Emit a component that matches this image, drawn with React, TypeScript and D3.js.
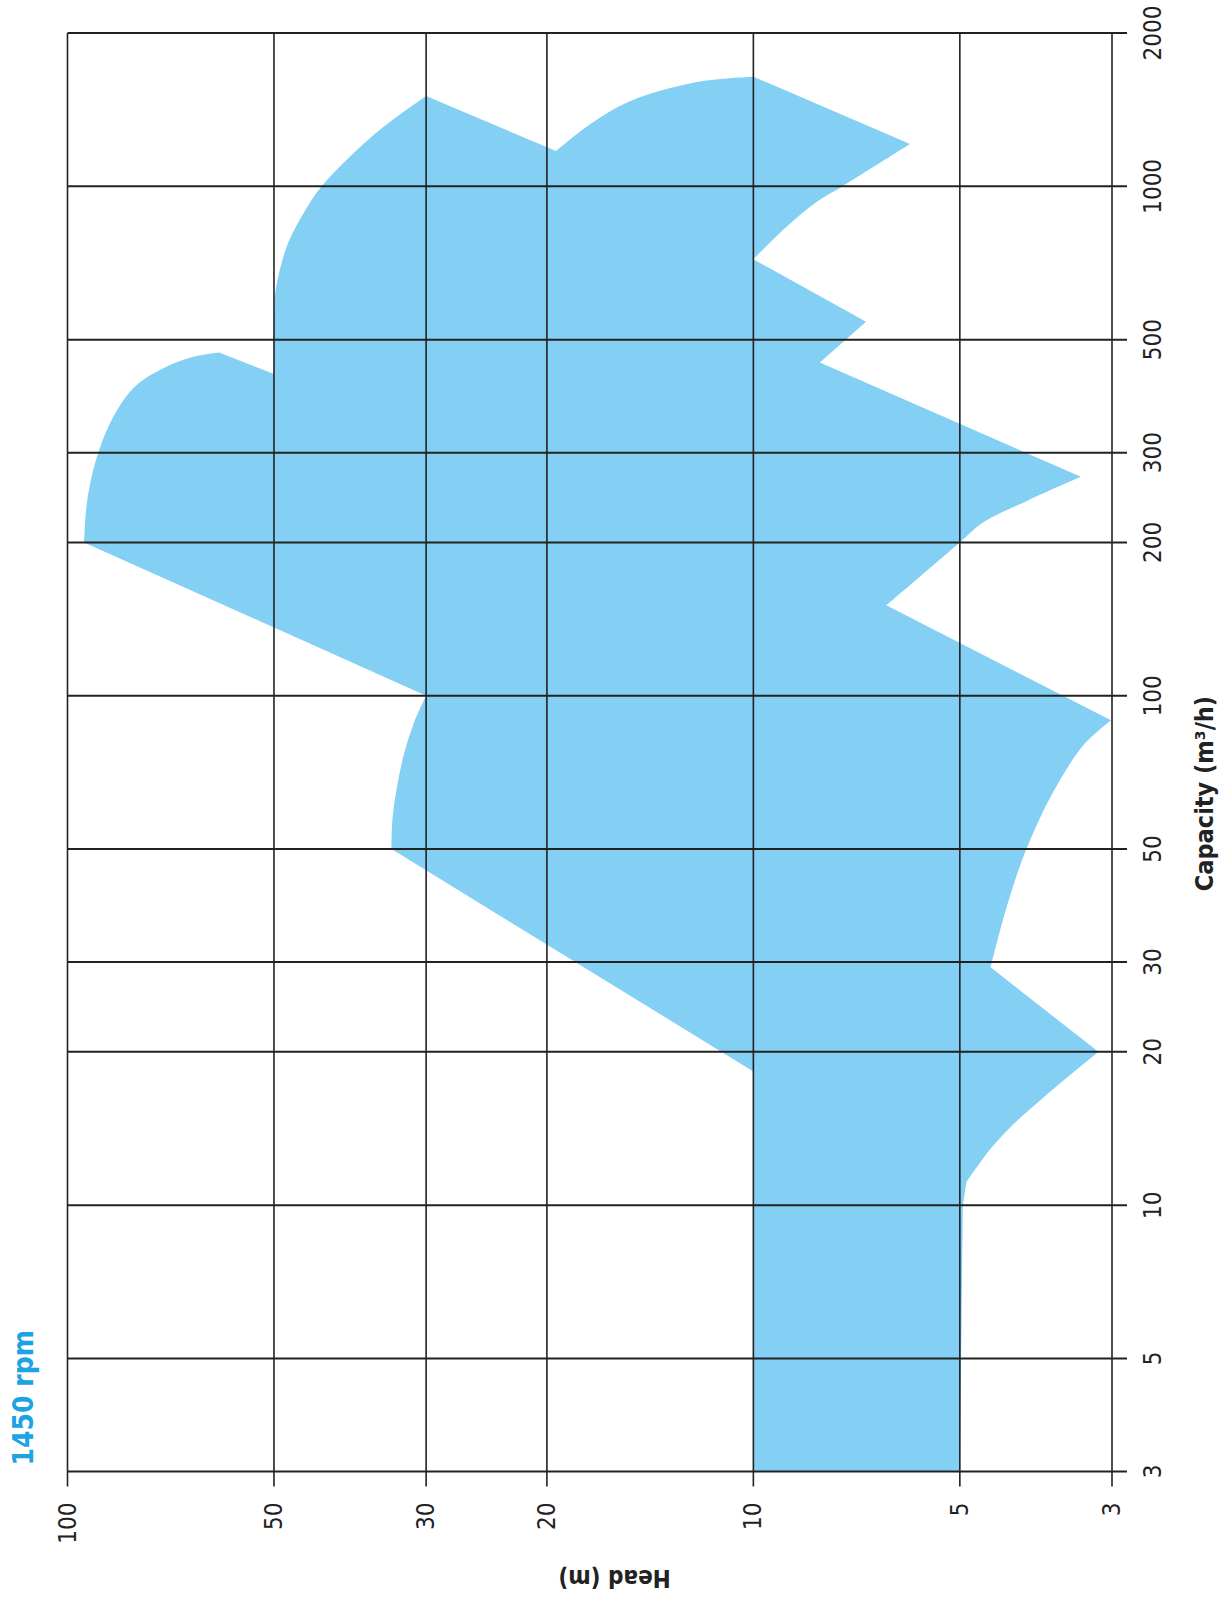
import { useEffect, useRef } from 'react';
import * as d3 from 'd3';

type Pt = [number, number]; // [capacity m3/h, head m]

// axis ticks
const capacityTicks = [3, 5, 10, 20, 30, 50, 100, 200, 300, 500, 1000, 2000];
const headTicks = [100, 50, 30, 20, 10, 5, 3];

// operating range outline, walked round in order; smooth pieces are pump curves
const lowStart: Pt[] = [[3, 10], [18.3, 10], [50, 33.7]];
const curveA: Pt[] = [[50, 33.7], [57, 33.6], [66, 33.1], [77, 32.3], [89, 31.2], [100, 30]];
const riseA: Pt[] = [[100, 30], [200, 94.6]];
const curveB: Pt[] = [[200, 94.6], [239, 93.7], [287, 91.1], [344, 86.6], [403, 80.0], [442, 71.9], [463, 65.5], [472, 60.1]];
const stepB: Pt[] = [[472, 60.1], [428, 50]];
const curveC: Pt[] = [[428, 50], [530, 50], [599, 49.9], [664, 49.3], [773, 47.7], [898, 45.0], [1000, 42.6], [1127, 39.2], [1309, 34.6], [1505, 30]];
const stepC: Pt[] = [[1505, 30], [1173, 19.4]];
const curveD: Pt[] = [[1173, 19.4], [1324, 17.3], [1465, 15.2], [1556, 13.3], [1614, 11.7], [1642, 10]];
const stepD: Pt[] = [[1642, 10], [1211, 5.91]];
const curveE: Pt[] = [[1211, 5.91], [1002, 7.4], [935, 8.06], [830, 8.97], [719, 10]];
const stepE: Pt[] = [[719, 10], [542, 6.85], [451, 8.0], [269, 3.33]];
const curveF: Pt[] = [[269, 3.33], [241, 4.0], [219, 4.62], [200, 5.0], [150.5, 6.4]];
const stepF: Pt[] = [[150.5, 6.4], [89.5, 3.01]];
const curveG: Pt[] = [[89.5, 3.01], [80, 3.3], [64.5, 3.66], [49.5, 4.01], [39, 4.26], [29.3, 4.51]];
const stepG: Pt[] = [[29.3, 4.51], [20, 3.14]];
const curveH: Pt[] = [[20, 3.14], [16.4, 3.75], [14.4, 4.18], [12.9, 4.51], [11.1, 4.89]];
const lowEnd: Pt[] = [[11.1, 4.89], [10, 4.95], [3, 5.0]];

const outline: { pts: Pt[]; smooth: boolean }[] = [
    { pts: lowStart, smooth: false },
    { pts: curveA, smooth: true },
    { pts: riseA, smooth: false },
    { pts: curveB, smooth: true },
    { pts: stepB, smooth: false },
    { pts: curveC, smooth: true },
    { pts: stepC, smooth: false },
    { pts: curveD, smooth: true },
    { pts: stepD, smooth: false },
    { pts: curveE, smooth: true },
    { pts: stepE, smooth: false },
    { pts: curveF, smooth: true },
    { pts: stepF, smooth: false },
    { pts: curveG, smooth: true },
    { pts: stepG, smooth: false },
    { pts: curveH, smooth: true },
    { pts: lowEnd, smooth: false },
];

const FONT = '"Liberation Sans Narrow", "DejaVu Sans Condensed", "Roboto", sans-serif';

export default function App() {
    const svgRef = useRef<SVGSVGElement>(null);

    useEffect(() => {
        if (!svgRef.current) return;
        const width = 1228;
        const height = 1599;
        d3.select(svgRef.current).selectAll('*').remove();

        const svg = d3.select(svgRef.current).attr('width', width).attr('height', height);
        svg.append('rect').attr('width', width).attr('height', height).attr('fill', '#fff');

        // chart is drawn upright (capacity along x, head along y) and turned a quarter to the left
        const left = 67.5;
        const bottom = 1471.5;
        const capLen = 1438.5;
        const headLen = 1044.5;

        const x = d3.scaleLog().domain([3, 2000]).range([0, capLen]);
        const y = d3.scaleLog().domain([100, 3]).range([0, headLen]);

        const g = svg.append('g').attr('transform', `translate(${left},${bottom}) rotate(-90)`);

        // area
        const linear = d3.line<Pt>().x((d) => x(d[0])).y((d) => y(d[1]));
        const smooth = d3
            .line<Pt>()
            .x((d) => x(d[0]))
            .y((d) => y(d[1]))
            .curve(d3.curveCatmullRom.alpha(0.5));
        const pathStr =
            outline
                .map((p, i) => {
                    const s = (p.smooth ? smooth(p.pts) : linear(p.pts)) || '';
                    return i === 0 ? s : s.replace(/^M/, 'L');
                })
                .join('') + 'Z';
        g.append('path').attr('d', pathStr).attr('fill', '#84d0f4');

        // grid: capacity lines (horizontal on the page)
        capacityTicks.forEach((c) => {
            g.append('line')
                .attr('x1', x(c))
                .attr('x2', x(c))
                .attr('y1', 0)
                .attr('y2', headLen + 15)
                .attr('stroke', '#222')
                .attr('stroke-width', 2);
            g.append('text')
                .attr('x', x(c))
                .attr('y', headLen + 31)
                .attr('text-anchor', 'middle')
                .attr('dominant-baseline', 'hanging')
                .attr('font-family', FONT)
                .attr('font-size', 24)
                .attr('fill', '#222')
                .text(c);
        });

        // grid: head lines (vertical on the page)
        headTicks.forEach((h) => {
            g.append('line')
                .attr('x1', -15)
                .attr('x2', capLen)
                .attr('y1', y(h))
                .attr('y2', y(h))
                .attr('stroke', '#222')
                .attr('stroke-width', 1.6);
            g.append('text')
                .attr('x', -31)
                .attr('y', y(h))
                .attr('text-anchor', 'end')
                .attr('dominant-baseline', 'central')
                .attr('font-family', FONT)
                .attr('font-size', 24)
                .attr('fill', '#222')
                .text(h);
        });

        // axis titles
        g.append('text')
            .attr('x', 678)
            .attr('y', headLen + 92)
            .attr('text-anchor', 'middle')
            .attr('dominant-baseline', 'central')
            .attr('font-family', FONT)
            .attr('font-weight', 'bold')
            .attr('font-size', 25)
            .attr('fill', '#222')
            .text('Capacity (m³/h)');

        g.append('text')
            .attr('transform', `translate(-106,547) rotate(-90)`)
            .attr('text-anchor', 'middle')
            .attr('dominant-baseline', 'central')
            .attr('font-family', FONT)
            .attr('font-weight', 'bold')
            .attr('font-size', 24)
            .attr('fill', '#222')
            .text('Head (m)');

        g.append('text')
            .attr('x', 6)
            .attr('y', -35)
            .attr('font-family', FONT)
            .attr('font-weight', 'bold')
            .attr('font-size', 28)
            .attr('fill', '#1ba3e3')
            .text('1450 rpm');
    }, []);

    return <svg ref={svgRef} style={{ position: 'absolute', left: 0, top: 0, display: 'block' }} />;
}
